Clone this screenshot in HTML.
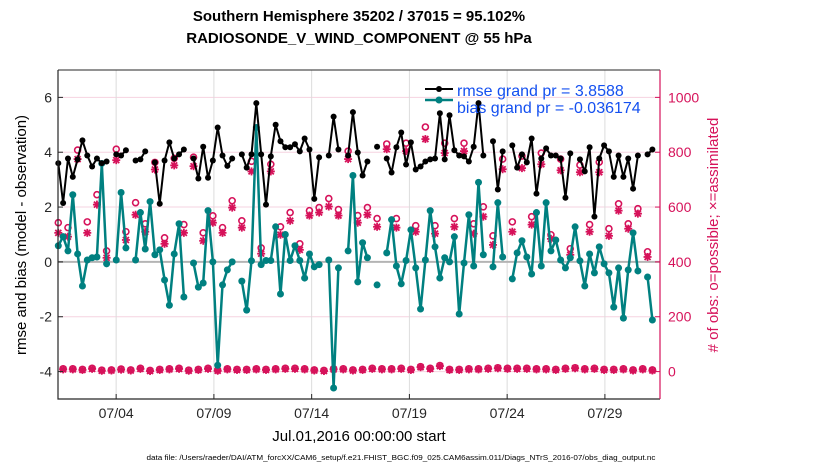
<!DOCTYPE html>
<html><head><meta charset="utf-8">
<style>
html,body{margin:0;padding:0;background:#fff;}
svg{display:block;font-family:"Liberation Sans",sans-serif;}
</style></head>
<body>
<svg id="chart" width="830" height="470" viewBox="0 0 830 470" xmlns="http://www.w3.org/2000/svg">
<text x="359" y="21" text-anchor="middle" font-size="15" font-weight="bold">Southern Hemisphere 35202 / 37015 = 95.102%</text>
<text x="359" y="43" text-anchor="middle" font-size="15" font-weight="bold">RADIOSONDE_V_WIND_COMPONENT @ 55 hPa</text>
<g id="grid"></g>
<g id="series"></g>
<g id="axes"></g>
<text transform="translate(26,235) rotate(-90)" text-anchor="middle" font-size="15">rmse and bias (model - observation)</text>
<text transform="translate(718,235) rotate(-90)" text-anchor="middle" font-size="15" fill="#d6125a"># of obs: o=possible; ×=assimilated</text>
<text x="359" y="441" text-anchor="middle" font-size="15">Jul.01,2016 00:00:00 start</text>
<text x="401" y="460" text-anchor="middle" font-size="7.5" textLength="509" lengthAdjust="spacingAndGlyphs">data file: /Users/raeder/DAI/ATM_forcXX/CAM6_setup/f.e21.FHIST_BGC.f09_025.CAM6assim.011/Diags_NTrS_2016-07/obs_diag_output.nc</text>
<g id="legend">
<line x1="425" y1="89" x2="453" y2="89" stroke="#000" stroke-width="2"/>
<circle cx="439" cy="89" r="3" fill="#000"/>
<text x="457" y="96" font-size="16" fill="#1450f0">rmse grand pr = 3.8588</text>
<line x1="425" y1="100" x2="453" y2="100" stroke="#008080" stroke-width="2.5"/>
<circle cx="439" cy="100" r="3.5" fill="#008080"/>
<text x="457" y="113" font-size="16" fill="#1450f0">bias grand pr = -0.036174</text>
</g>
</svg>
<script>
const rmse = [3.6,2.15,3.77,3.1,3.74,4.43,3.88,3.48,3.77,3.6,3.66,null,3.92,3.88,4.07,null,3.7,3.74,4.03,null,3.63,2.12,3.7,4.36,3.77,3.92,4.1,null,3.77,3.04,4.2,3.07,3.7,4.9,3.88,3.5,3.77,null,3.92,3.44,3.92,5.79,3.92,2.09,3.85,5.0,4.4,4.18,4.18,4.29,4.03,4.5,4.1,2.3,3.81,null,3.88,5.3,4.1,null,3.88,5.46,3.99,3.15,3.66,null,4.2,null,3.77,3.26,4.18,4.72,3.55,4.36,3.37,3.48,3.66,3.74,3.77,5.42,3.74,5.35,4.07,3.88,3.85,3.66,4.2,5.79,3.88,null,4.4,2.64,4.03,null,4.25,3.44,3.92,3.63,4.5,2.49,3.77,4.14,3.88,3.88,3.77,2.34,3.96,null,3.74,3.3,4.18,1.65,3.77,4.25,4.03,3.1,3.88,3.1,3.77,2.67,3.88,null,3.92,4.1];
const bias = [0.59,0.92,0.4,2.45,0.29,-0.88,0.07,0.15,0.18,3.59,-0.07,null,0.07,2.53,0.51,null,0.07,1.8,0.47,2.2,0.26,0.44,-0.66,-1.58,0.29,1.39,-1.28,null,-0.04,-0.92,-0.77,1.87,0,-3.77,-0.84,-0.29,0,null,-0.7,-1.76,0.04,4.9,-0.1,0.05,0.05,1.28,-1.17,1.0,0.05,0.59,0.05,-0.59,0.29,-0.18,-0.1,null,0.07,-4.6,-0.22,null,0.4,3.15,-0.73,0.7,0.15,null,-0.84,null,0.33,1.54,-0.15,-0.8,0.05,1.17,-0.22,-1.72,0.07,1.87,0.55,-0.59,0.15,0,0.92,-1.9,-0.04,1.72,-0.15,2.9,0.26,null,-0.18,2.16,0.18,null,-0.62,0.33,0.77,0.18,-0.44,1.8,-0.15,2.16,0.4,0.8,0.07,-0.22,0.15,1.28,0.04,-0.88,0.29,-0.4,0.55,-0.07,-0.4,-1.65,-0.22,-2.05,-0.29,1.06,-0.33,null,-0.55,-2.12];
// obs counts at 00Z/12Z (even 6-h steps)
const possibleMain = [543,525,808,546,645,440,811,510,616,539,763,488,778,536,782,506,568,525,623,550,767,451,756,528,580,466,587,598,631,591,804,569,598,558,830,558,833,532,892,532,833,558,833,539,601,495,775,546,786,565,797,499,775,448,753,536,764,521,612,539,594,437];
const assimMain = [506,492,775,506,609,415,771,480,572,510,737,466,752,506,749,477,543,506,598,525,730,430,730,499,550,444,569,580,602,569,775,543,572,528,811,525,804,510,848,503,797,528,804,503,565,462,738,510,742,536,756,484,734,426,727,510,727,495,587,521,576,418];
// obs counts at 06Z/18Z (odd 6-h steps)
const possibleOff = [10,10,8,12,5,6,9,6,12,4,8,10,12,5,8,12,5,10,8,8,10,8,10,12,12,10,6,4,10,10,6,8,12,10,10,12,8,18,12,22,8,8,10,10,12,14,12,12,12,10,10,8,12,14,10,12,8,8,10,6,10,6];
const assimOff = [8,8,6,10,3,4,7,4,10,2,6,8,10,3,6,10,3,8,6,6,8,6,8,10,10,8,4,2,8,8,4,6,10,8,8,10,6,16,10,20,6,6,8,8,10,12,10,10,10,8,8,6,10,12,8,10,6,6,8,4,8,4];
const leftTicks = [-4,-2,0,2,4,6];
const rightTicks = [0,200,400,600,800,1000];
const dateTicks = ["07/04","07/09","07/14","07/19","07/24","07/29"];
const dateTickDays = [3,8,13,18,23,28];

const NS="http://www.w3.org/2000/svg";
const PL=58, PR=660, PT=70, PB=399;
function xDay(d){return 57.5+d*19.55;}
function xIdx(i){return 58.3+i*4.83;}
function yL(v){return 261.9-v*27.42;}
function yR(c){return yL(c/100-4);}
function mk(tag,attrs,parent){const e=document.createElementNS(NS,tag);for(const k in attrs)e.setAttribute(k,attrs[k]);parent.appendChild(e);return e;}
const grid=document.getElementById('grid'), ser=document.getElementById('series'), axes=document.getElementById('axes');

rightTicks.forEach(t=>{
  const l=mk('line',{x1:PL,x2:PR,y1:yR(t),y2:yR(t),stroke:'#f6d3e0','stroke-width':1},grid);
  
  
});
dateTickDays.forEach(d=>{
  const l=mk('line',{x1:xDay(d),x2:xDay(d),y1:PT,y2:PB,stroke:'#dcdcdc','stroke-width':1},grid);
  
  
});
const zl=mk('line',{x1:PL,x2:PR,y1:yL(0),y2:yL(0),stroke:'#b4b4b4','stroke-width':2},grid);



function circ(x,y,name){
  const c=mk('circle',{cx:x,cy:y,r:3,fill:'none',stroke:'#d6125a','stroke-width':1.6},ser);
  
  
}
function star(x,y,name){
  const g=mk('g',{stroke:'#d6125a','stroke-width':1.8},ser);
  
  
  const s=4;
  mk('line',{x1:x-s,y1:y,x2:x+s,y2:y},g);
  mk('line',{x1:x,y1:y-s,x2:x,y2:y+s},g);
  mk('line',{x1:x-3,y1:y-3,x2:x+3,y2:y+3},g);
  mk('line',{x1:x-3,y1:y+3,x2:x+3,y2:y-3},g);
}
possibleMain.forEach((c,k)=>circ(xIdx(2*k),yR(c),'obs-possible'));
assimMain.forEach((c,k)=>star(xIdx(2*k),yR(c),'obs-assimilated'));
possibleOff.forEach((c,k)=>circ(xIdx(2*k+1),yR(c),'obs-possible'));
assimOff.forEach((c,k)=>star(xIdx(2*k+1),yR(c),'obs-assimilated'));

function drawSeries(arr,color,w,r,name){
  let d='',pen=false;
  arr.forEach((v,i)=>{
    if(v===null){pen=false;return;}
    d+=(pen?'L':'M')+xIdx(i).toFixed(1)+' '+yL(v).toFixed(1);
    pen=true;
  });
  const p=mk('path',{d:d,fill:'none',stroke:color,'stroke-width':w,'stroke-linejoin':'round'},ser);
  
  
  arr.forEach((v,i)=>{
    if(v===null)return;
    const c=mk('circle',{cx:xIdx(i),cy:yL(v),r:r,fill:color},ser);
    
    
  });
}
drawSeries(bias,'#008080',2.5,3.5,'bias');
drawSeries(rmse,'#000000',2,3,'rmse');

const ax=mk('path',{d:`M${PL} ${PT}V${PB}H${PR}`,fill:'none',stroke:'#262626','stroke-width':1.2},axes);


const tl=mk('line',{x1:PL,x2:PR,y1:PT,y2:PT,stroke:'#262626','stroke-width':1},axes);


const ar=mk('line',{x1:PR,x2:PR,y1:PT,y2:PB,stroke:'#d6125a','stroke-width':1.2},axes);


leftTicks.forEach(t=>{
  mk('line',{x1:PL,x2:PL+5,y1:yL(t),y2:yL(t),stroke:'#262626'},axes);
  const tx=mk('text',{x:PL-6,y:yL(t)+5,'text-anchor':'end','font-size':14,fill:'#262626'},axes);
  tx.textContent=t;
  
  
});
rightTicks.forEach(t=>{
  mk('line',{x1:PR-5,x2:PR,y1:yR(t),y2:yR(t),stroke:'#d6125a'},axes);
  const tx=mk('text',{x:PR+8,y:yR(t)+5,'font-size':14,fill:'#d6125a'},axes);
  tx.textContent=t;
  
  
});
dateTicks.forEach((lab,k)=>{
  const x=xDay(dateTickDays[k]);
  mk('line',{x1:x,x2:x,y1:PB,y2:PB-5,stroke:'#262626'},axes);
  const tx=mk('text',{x:x,y:PB+19,'text-anchor':'middle','font-size':14,fill:'#262626'},axes);
  tx.textContent=lab;
  
  
});
</script>
</body></html>
